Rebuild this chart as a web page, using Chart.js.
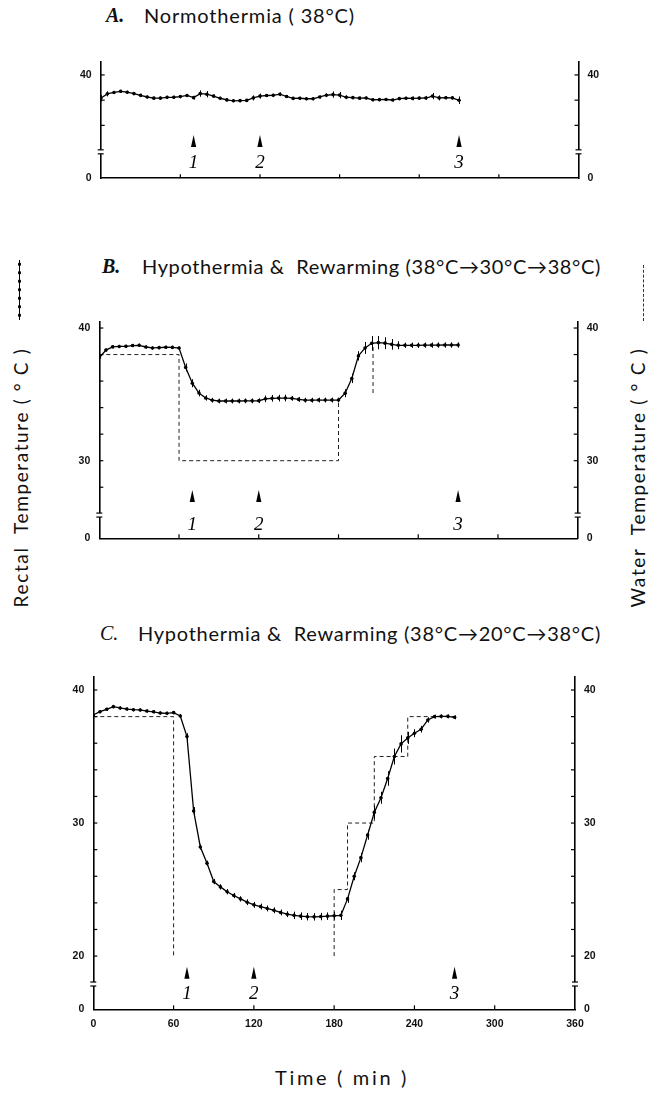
<!DOCTYPE html>
<html>
<head>
<meta charset="utf-8">
<title>Rectal and water temperature</title>
<script src="https://cdn.jsdelivr.net/npm/chart.js@4.4.1/dist/chart.umd.min.js"></script>
<style>
  html, body { margin: 0; padding: 0; background: #fff; }
  body { position: relative; width: 655px; height: 1094px; overflow: hidden; color: #111; }
  canvas { position: absolute; left: 0; }
  .lbl { position: absolute; white-space: nowrap; line-height: 1; font-family: Lato, "DejaVu Sans", sans-serif; font-size: 20px; }
  .ser { font-family: "Liberation Serif", serif; font-style: italic; font-weight: bold; font-size: 20px; }
  .rot { transform: rotate(-90deg); transform-origin: 50% 50%; }
  #mkL { position: absolute; left: 17px; top: 260px; width: 5px; height: 60px;
    background: linear-gradient(#000, #000) center / 1px 100% no-repeat,
                radial-gradient(circle, #000 1.3px, transparent 1.8px) center top / 5px 8.5px repeat-y; }
  #mkR { position: absolute; left: 643px; top: 265px; height: 56px; border-left: 1px dashed #333; }
</style>
</head>
<body>
<div class="lbl ser" id="tAk">A.</div><div class="lbl" id="tA">Normothermia ( 38°C)</div>
<div class="lbl ser" id="tBk">B.</div><div class="lbl" id="tB">Hypothermia &amp;&nbsp; Rewarming (38°C→30°C→38°C)</div>
<div class="lbl ser" id="tCk" style="font-weight:normal">C.</div><div class="lbl" id="tC">Hypothermia &amp;&nbsp; Rewarming (38°C→20°C→38°C)</div>
<div class="lbl rot" id="yL" style="font-size:19px">Rectal&nbsp; Temperature ( ° C )</div>
<div class="lbl rot" id="yR" style="font-size:19px">Water&nbsp; Temperature ( ° C )</div>
<div class="lbl" id="xT">Time ( min )</div>
<div id="mkL"></div><div id="mkR"></div>

<canvas id="chartA" width="655" height="170" style="top:40px"></canvas>
<canvas id="chartB" width="655" height="265" style="top:295px"></canvas>
<canvas id="chartC" width="655" height="390" style="top:660px"></canvas>

<script>
// sampling times (min)
const minutes = [0, 5, 10, 15, 20, 25, 30, 35, 40, 45, 50, 55, 60, 65, 70, 75, 80, 85, 90, 95,
  100, 105, 110, 115, 120, 125, 130, 135, 140, 145, 150, 155, 160, 165, 170, 175, 180, 185, 190, 195,
  200, 205, 210, 215, 220, 225, 230, 235, 240, 245, 250, 255, 260, 265, 270];
const timeTicks = [0, 60, 120, 180, 240, 300, 360];
const markTimes = [70, 120, 270];
const markLabels = ['1', '2', '3'];

// A. normothermia - rectal temperature (mean, SEM)
const rectalA = [38.15, 38.50, 38.61, 38.70, 38.63, 38.52, 38.38, 38.25, 38.16, 38.16,
  38.22, 38.23, 38.28, 38.37, 38.20, 38.52, 38.47, 38.32, 38.15, 38.02,
  37.95, 37.96, 37.98, 38.18, 38.32, 38.37, 38.38, 38.47, 38.29, 38.14,
  38.15, 38.11, 38.11, 38.25, 38.39, 38.44, 38.40, 38.23, 38.20, 38.16,
  38.17, 38.03, 38.04, 38.05, 38.01, 38.12, 38.15, 38.14, 38.16, 38.17,
  38.32, 38.18, 38.19, 38.18, 37.99];
const errA = [0.25, 0.2, 0.12, 0.12, 0.12, 0.12, 0.12, 0.12, 0.12, 0.12,
  0.12, 0.12, 0.12, 0.12, 0.15, 0.25, 0.25, 0.12, 0.12, 0.12,
  0.12, 0.12, 0.12, 0.2, 0.2, 0.12, 0.12, 0.15, 0.12, 0.12,
  0.12, 0.12, 0.12, 0.12, 0.15, 0.25, 0.25, 0.15, 0.12, 0.12,
  0.12, 0.12, 0.12, 0.12, 0.12, 0.12, 0.12, 0.15, 0.12, 0.15,
  0.25, 0.2, 0.12, 0.12, 0.3];

// B. 38 -> 30 -> 38
const rectalB = [37.76, 38.34, 38.58, 38.61, 38.62, 38.68, 38.70, 38.57, 38.50, 38.52,
  38.55, 38.54, 38.49, 37.03, 35.84, 35.10, 34.73, 34.56, 34.50, 34.50,
  34.50, 34.50, 34.51, 34.51, 34.52, 34.66, 34.70, 34.72, 34.72, 34.70,
  34.62, 34.56, 34.56, 34.57, 34.57, 34.57, 34.57, 35.09, 36.20, 37.90,
  38.50, 38.85, 38.90, 38.86, 38.77, 38.70, 38.70, 38.70, 38.70, 38.71,
  38.71, 38.71, 38.72, 38.72, 38.72];
const errB = [0.25, 0.12, 0.12, 0.12, 0.12, 0.12, 0.12, 0.12, 0.12, 0.12,
  0.12, 0.12, 0.12, 0.3, 0.3, 0.25, 0.2, 0.18, 0.18, 0.18,
  0.18, 0.18, 0.18, 0.18, 0.18, 0.25, 0.25, 0.25, 0.25, 0.18,
  0.18, 0.18, 0.18, 0.18, 0.18, 0.18, 0.18, 0.3, 0.35, 0.35,
  0.45, 0.55, 0.5, 0.45, 0.4, 0.3, 0.2, 0.2, 0.2, 0.2,
  0.2, 0.2, 0.2, 0.2, 0.2];
const waterB_t = [0, 60, 60, 180, 180, 190, 206, 206];
const waterB_v = [38, 38, 30, 30, 34.5, null, 35.1, 38.9];

// C. 38 -> 20 -> 38
const rectalC = [38.12, 38.37, 38.55, 38.75, 38.65, 38.57, 38.52, 38.50, 38.42, 38.36,
  38.27, 38.25, 38.30, 38.05, 36.50, 30.90, 28.20, 26.97, 25.60, 25.20,
  24.84, 24.55, 24.30, 24.05, 23.85, 23.72, 23.58, 23.44, 23.28, 23.15,
  23.06, 23.00, 22.96, 22.95, 22.97, 23.00, 23.03, 23.06, 24.30, 26.00,
  27.40, 29.10, 30.80, 31.90, 33.35, 35.00, 35.95, 36.40, 36.75, 37.05,
  37.75, 38.00, 38.02, 38.02, 37.95];
const errC = [0.15, 0.12, 0.12, 0.12, 0.12, 0.12, 0.12, 0.12, 0.12, 0.12,
  0.12, 0.12, 0.12, 0.15, 0.25, 0.3, 0.2, 0.2, 0.2, 0.2,
  0.2, 0.2, 0.2, 0.22, 0.22, 0.22, 0.22, 0.22, 0.22, 0.22,
  0.28, 0.28, 0.28, 0.28, 0.28, 0.28, 0.3, 0.35, 0.3, 0.3,
  0.35, 0.35, 0.5, 0.45, 0.55, 0.6, 0.65, 0.45, 0.3, 0.25,
  0.2, 0.15, 0.15, 0.15, 0.15];
const waterC_t = [0, 60, 60, 120, 180, 180, 190, 190, 210, 210, 235, 235, 270];
const waterC_v = [38, 38, 20, null, 20, 25, 25, 30, 30, 35, 35, 38, 38];

Chart.defaults.font.family = '"Liberation Sans", Arial, sans-serif';
Chart.defaults.color = '#111';

// SEM bars on the rectal series
const errorBars = {
  id: 'errorBars',
  afterDatasetsDraw(chart) {
    const ctx = chart.ctx, y = chart.scales.y;
    chart.data.datasets.forEach((ds, i) => {
      if (!ds.err) return;
      const meta = chart.getDatasetMeta(i);
      ctx.save();
      ctx.strokeStyle = '#000';
      ctx.lineWidth = 1;
      meta.data.forEach((pt, j) => {
        const v = ds.data[j].y, e = ds.err[j];
        const px = Math.round(pt.x) + 0.5;
        ctx.beginPath();
        ctx.moveTo(px, y.getPixelForValue(v + e));
        ctx.lineTo(px, y.getPixelForValue(v - e));
        ctx.stroke();
      });
      ctx.restore();
    });
  }
};

// inward ticks, axis breaks and the 1/2/3 arrows
const panelDeco = {
  id: 'panelDeco',
  afterDraw(chart, args, o) {
    const { ctx, chartArea: a, scales } = chart;
    const x = scales.x, yl = scales.y;
    const seg = (x1, y1, x2, y2) => { ctx.beginPath(); ctx.moveTo(x1, y1); ctx.lineTo(x2, y2); ctx.stroke(); };
    ctx.save();
    ctx.strokeStyle = '#000';
    ctx.fillStyle = '#000';
    ctx.lineWidth = 1.2;
    yl.ticks.forEach(t => {
      if (t.value === yl.min) return;
      const py = yl.getPixelForValue(t.value);
      seg(a.left, py, a.left + 4, py);
      seg(a.right - 4, py, a.right, py);
    });
    x.ticks.forEach(t => {
      if (t.value === x.min || t.value === x.max) return;
      const px = x.getPixelForValue(t.value);
      seg(px, a.bottom, px, a.bottom - 4);
    });
    const pb = yl.getPixelForValue(o.breakAt);
    [a.left, a.right].forEach(ax => {
      ctx.fillStyle = '#fff';
      ctx.fillRect(ax - 3, pb - 2, 6, 4);
      ctx.fillStyle = '#000';
      seg(ax - 3, pb - 2, ax + 3, pb - 2);
      seg(ax - 3, pb + 2, ax + 3, pb + 2);
    });
    ctx.font = 'italic 19px "Liberation Serif", serif';
    ctx.textAlign = 'center';
    ctx.textBaseline = 'middle';
    markTimes.forEach((m, i) => {
      const px = x.getPixelForValue(m);
      const tip = a.bottom - o.arrowUp;
      ctx.beginPath();
      ctx.moveTo(px, tip);
      ctx.lineTo(px + 2.6, tip + 12);
      ctx.lineTo(px - 2.6, tip + 12);
      ctx.closePath();
      ctx.fill();
      ctx.fillText(markLabels[i], px, a.bottom - o.numUp);
    });
    ctx.restore();
  }
};

function makePanel(id, cfg) {
  const datasets = [{
    data: cfg.rectal.map((v, i) => ({ x: minutes[i], y: v })),
    err: cfg.err,
    borderColor: '#000', borderWidth: 1.3, tension: 0,
    pointRadius: 1.8, pointBackgroundColor: '#000', pointBorderWidth: 0
  }];
  if (cfg.waterT) {
    datasets.push({
      data: cfg.waterT.map((t, i) => ({ x: t, y: cfg.waterV[i] })),
      borderColor: '#222', borderWidth: 1, borderDash: [4, 3],
      pointRadius: 0, spanGaps: false, tension: 0
    });
  }
  const yTicks = [cfg.yMin].concat(cfg.yTicks);
  const yAxis = (pos, w) => ({
    type: 'linear', position: pos, min: cfg.yMin, max: cfg.yMax,
    afterBuildTicks: s => { s.ticks = yTicks.map(v => ({ value: v })); },
    afterFit: s => { s.width = w; },
    grid: { display: false, drawTicks: false },
    border: { display: true, color: '#000', width: 1.6 },
    ticks: {
      padding: 9, color: '#111', font: { size: 10.5, weight: 'bold' },
      callback: v => v === cfg.yMin ? '0' : (v % 10 === 0 ? String(v) : '')
    }
  });
  return new Chart(document.getElementById(id), {
    type: 'line',
    data: { datasets },
    options: {
      responsive: false, animation: false, devicePixelRatio: 1,
      layout: { padding: { top: cfg.padTop, left: 0, right: 0, bottom: 0 } },
      scales: {
        x: {
          type: 'linear', min: 0, max: 360,
          afterBuildTicks: s => { s.ticks = timeTicks.map(v => ({ value: v })); },
          afterFit: s => { s.height = cfg.xH; },
          grid: { display: false, drawTicks: false },
          border: { display: true, color: '#000', width: 1.6 },
          ticks: { display: cfg.xLabels, padding: 9, color: '#111', font: { size: 10.5, weight: 'bold' } }
        },
        y: yAxis('left', cfg.leftW),
        y2: yAxis('right', cfg.rightW)
      },
      plugins: {
        legend: { display: false },
        tooltip: { enabled: false },
        panelDeco: { breakAt: cfg.breakAt, arrowUp: cfg.arrowUp, numUp: cfg.numUp }
      }
    },
    plugins: [errorBars, panelDeco]
  });
}

makePanel('chartA', {
  rectal: rectalA, err: errA,
  yMin: 31.8, yMax: 41.05, yTicks: [36, 38, 40], breakAt: 33.9,
  padTop: 21.7, xH: 31.7, leftW: 100.7, rightW: 76.5, xLabels: false,
  arrowUp: 43.3, numUp: 15.3
});
makePanel('chartB', {
  rectal: rectalB, err: errB, waterT: waterB_t, waterV: waterB_v,
  yMin: 24.15, yMax: 40.5, yTicks: [28, 30, 32, 34, 36, 38, 40], breakAt: 25.9,
  padTop: 26.4, xH: 21.7, leftW: 99.3, rightW: 77.3, xLabels: false,
  arrowUp: 48.3, numUp: 13.5
});
makePanel('chartC', {
  rectal: rectalC, err: errC, waterT: waterC_t, waterV: waterC_v,
  yMin: 16, yMax: 41, yTicks: [20, 22, 24, 26, 28, 30, 32, 34, 36, 38, 40], breakAt: 17.9,
  padTop: 16.7, xH: 40.7, leftW: 93.3, rightW: 80, xLabels: true,
  arrowUp: 42.6, numUp: 15
});

// text placement
function fitH(id, x0, x1, cy) {
  const el = document.getElementById(id);
  const n = el.textContent.length;
  const w = el.getBoundingClientRect().width;
  if (x1 !== null) el.style.letterSpacing = ((x1 - x0 - w) / n) + 'px';
  el.style.left = x0 + 'px';
  el.style.top = (cy - el.offsetHeight / 2) + 'px';
}
function fitV(id, cx, y0, y1) {
  const el = document.getElementById(id);
  const n = el.textContent.length;
  el.style.letterSpacing = ((y1 - y0 - el.offsetWidth) / n) + 'px';
  el.style.left = (cx - el.offsetWidth / 2) + 'px';
  el.style.top = ((y0 + y1) / 2 - el.offsetHeight / 2) + 'px';
}
fitH('tAk', 106, null, 15);
fitH('tA', 144, 355, 15);
fitH('tBk', 102, null, 266);
fitH('tB', 142, 601, 266);
fitH('tCk', 100, null, 633);
fitH('tC', 138, 601, 633);
fitH('xT', 275, 409, 1077);
fitV('yL', 21, 347, 607);
fitV('yR', 638, 347, 607);
</script>
</body>
</html>
